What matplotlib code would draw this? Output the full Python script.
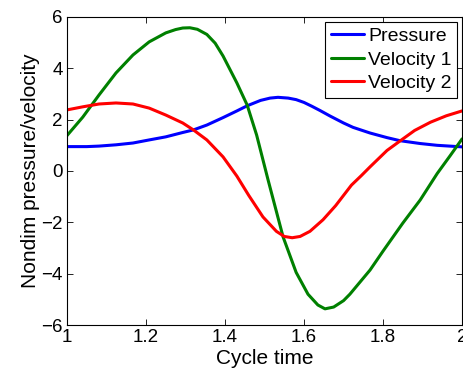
#!/usr/bin/env python3
"""
Nondimensional pressure and velocities over one cycle
"""

import matplotlib
matplotlib.use('Agg')
import matplotlib.pyplot as plt

# values
PRESSURE_T = [1.00, 1.05, 1.081, 1.124, 1.167, 1.208, 1.25, 1.293, 1.32, 1.354,
              1.395, 1.43, 1.456, 1.49, 1.514, 1.534, 1.56, 1.58, 1.60, 1.62,
              1.64, 1.666, 1.70, 1.724, 1.767, 1.81, 1.843, 1.894, 1.937, 2.00]
PRESSURE = [0.95, 0.95, 0.97, 1.02, 1.09, 1.21, 1.33, 1.50, 1.60, 1.79,
            2.08, 2.34, 2.54, 2.75, 2.84, 2.87, 2.84, 2.78, 2.67, 2.52,
            2.36, 2.14, 1.87, 1.70, 1.48, 1.30, 1.18, 1.07, 1.00, 0.94]

VELOCITY1_T = [1.00, 1.04, 1.081, 1.124, 1.167, 1.208, 1.25, 1.275, 1.293, 1.311,
               1.33, 1.354, 1.375, 1.395, 1.43, 1.456, 1.48, 1.509, 1.547, 1.58,
               1.61, 1.635, 1.653, 1.675, 1.70, 1.716, 1.767, 1.80, 1.85, 1.894,
               1.937, 1.97, 2.00]
VELOCITY1 = [1.38, 2.10, 2.96, 3.82, 4.52, 5.03, 5.38, 5.51, 5.57, 5.58,
             5.52, 5.32, 4.98, 4.48, 3.43, 2.57, 1.40, -0.35, -2.57, -3.95,
             -4.80, -5.22, -5.37, -5.30, -5.05, -4.80, -3.86, -3.12, -2.03, -1.13,
             -0.10, 0.60, 1.25]

VELOCITY2_T = [1.00, 1.04, 1.081, 1.124, 1.167, 1.208, 1.25, 1.293, 1.32, 1.354,
               1.395, 1.43, 1.46, 1.496, 1.53, 1.55, 1.57, 1.59, 1.615, 1.648,
               1.68, 1.70, 1.72, 1.745, 1.767, 1.81, 1.843, 1.88, 1.92, 1.96,
               2.00]
VELOCITY2 = [2.38, 2.50, 2.61, 2.65, 2.61, 2.45, 2.18, 1.87, 1.60, 1.21,
             0.55, -0.20, -0.95, -1.79, -2.35, -2.55, -2.60, -2.55, -2.35, -1.90,
             -1.35, -0.95, -0.55, -0.18, 0.16, 0.80, 1.17, 1.58, 1.90, 2.15,
             2.34]

X_TICKS = [1, 1.2, 1.4, 1.6, 1.8, 2]
Y_TICKS = [-6, -4, -2, 0, 2, 4, 6]


def main():
    plt.rcParams['font.family'] = ['Liberation Sans', 'DejaVu Sans']

    fig = plt.figure(figsize=(4.63, 3.69), dpi=100)
    ax = fig.add_axes([0.1447, 0.1192, 0.8533, 0.8348])

    style = dict(lw=2.2, solid_joinstyle='round', solid_capstyle='round')
    ax.plot(PRESSURE_T, PRESSURE, color=(0, 0, 1), label='Pressure', **style)
    ax.plot(VELOCITY1_T, VELOCITY1, color=(0, 0.5, 0), label='Velocity 1', **style)
    ax.plot(VELOCITY2_T, VELOCITY2, color=(1, 0, 0), label='Velocity 2', **style)

    ax.set_xlim(1, 2)
    ax.set_ylim(-6, 6)
    ax.set_xticks(X_TICKS)
    ax.set_xticklabels(['1', '1.2', '1.4', '1.6', '1.8', '2'])
    ax.set_yticks(Y_TICKS)
    ax.tick_params(direction='in', top=True, right=True, length=4,
                   width=0.6, labelsize=13.5, pad=3)
    for spine in ax.spines.values():
        spine.set_linewidth(0.8)

    ax.set_xlabel('Cycle time', fontsize=15, labelpad=2)
    ax.set_ylabel('Nondim pressure/velocity', fontsize=15, labelpad=1)

    leg = ax.legend(loc='upper right', fontsize=14, fancybox=False,
                    framealpha=1, edgecolor='black', borderaxespad=0.25,
                    borderpad=0.3, labelspacing=0.3, handlelength=1.7,
                    handletextpad=0.2)
    leg.get_frame().set_linewidth(0.8)

    fig.savefig('out.png', dpi=100)


if __name__ == '__main__':
    main()
